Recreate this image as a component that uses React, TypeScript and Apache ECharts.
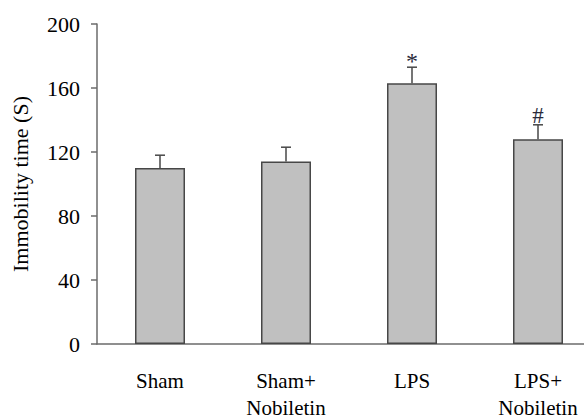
import React, { useEffect, useRef } from "react";
import * as echarts from "echarts";

const categories = ["Sham", "Sham+\nNobiletin", "LPS", "LPS+\nNobiletin"];
const means = [110, 114, 163, 128];
const errors = [8, 9, 10, 9];
const marks = ["", "", "*", "#"];
const yTicks = { min: 0, max: 200, interval: 40 };

const FONT = "'Liberation Serif', 'Times New Roman', serif";
const AXIS = "#6b6b6b";

export default function App() {
  const ref = useRef<HTMLDivElement>(null);
  useEffect(() => {
    if (!ref.current) return;
    const chart = echarts.init(ref.current, undefined, { renderer: "svg" });
    const errData = means.map((m, i) => [i, m, errors[i]]);
    chart.setOption({
      animation: false,
      backgroundColor: "#ffffff",
      grid: { left: 97, top: 24, right: -17, bottom: 74, outerBoundsMode: "none", containLabel: false },
      xAxis: {
        type: "category",
        data: categories,
        boundaryGap: true,
        axisLine: { show: true, lineStyle: { color: AXIS, width: 1.5 } },
        axisTick: { show: false },
        axisLabel: {
          fontFamily: FONT,
          fontSize: 21,
          color: "#000",
          lineHeight: 27,
          margin: 23,
          interval: 0,
        },
      },
      yAxis: {
        type: "value",
        min: yTicks.min,
        max: yTicks.max,
        interval: yTicks.interval,
        name: "Immobility time (S)",
        nameLocation: "middle",
        nameGap: 66,
        nameTextStyle: { fontFamily: FONT, fontSize: 22, color: "#000" },
        axisLine: { show: true, lineStyle: { color: AXIS, width: 1.5 } },
        axisTick: { show: true, length: 6, lineStyle: { color: AXIS, width: 1.5 } },
        splitLine: { show: false },
        axisLabel: { fontFamily: FONT, fontSize: 22, color: "#000", margin: 17 },
      },
      series: [
        {
          type: "bar",
          data: means,
          barWidth: 50,
          itemStyle: { color: "#c0c0c0", borderColor: "#474747", borderWidth: 1.5 },
        },
        {
          type: "custom",
          data: errData,
          z: 10,
          renderItem: (params: any, api: any) => {
            const i = api.value(0);
            const m = api.value(1);
            const e = api.value(2);
            const mark = marks[params.dataIndex];
            const base = api.coord([i, m]);
            const top = api.coord([i, m + e]);
            const cap = 5;
            const children: any[] = [
              {
                type: "line",
                shape: { x1: base[0], y1: base[1], x2: top[0], y2: top[1] },
                style: { stroke: "#474747", lineWidth: 1.5 },
              },
              {
                type: "line",
                shape: { x1: top[0] - cap, y1: top[1], x2: top[0] + cap, y2: top[1] },
                style: { stroke: "#474747", lineWidth: 1.5 },
              },
            ];
            if (mark) {
              const isStar = mark === "*";
              children.push({
                type: "text",
                x: top[0],
                y: top[1] + (isStar ? 6 : 2),
                style: {
                  text: mark,
                  fontFamily: FONT,
                  fontSize: isStar ? 24 : 23,
                  fill: "#2a2a3a",
                  align: "center",
                  verticalAlign: "bottom",
                },
              });
            }
            return { type: "group", children };
          },
        },
      ],
    });
    return () => chart.dispose();
  }, []);
  return <div ref={ref} style={{ width: 584, height: 418, position: "absolute", left: 0, top: 0 }} />;
}
